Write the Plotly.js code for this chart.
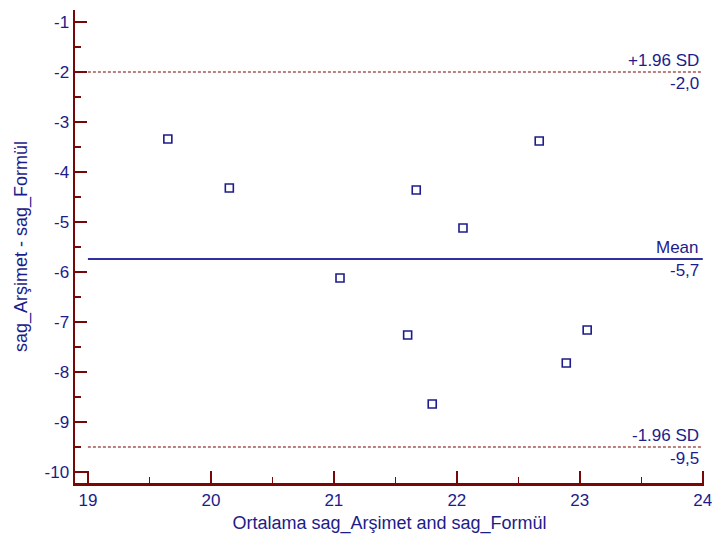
<!DOCTYPE html>
<html>
<head>
<meta charset="utf-8">
<script src="https://cdn.plot.ly/plotly-3.0.1.min.js"></script>
<style>html,body{margin:0;padding:0;background:#fff;}#chart{width:712px;height:540px;}</style>
</head>
<body>
<div id="chart"></div>
<script>
var avgValues = [19.65, 20.15, 21.05, 21.67, 21.60, 21.80, 22.05, 22.67, 22.89, 23.06];
var diffValues = [-3.34, -4.32, -6.12, -4.36, -7.26, -8.64, -5.12, -3.38, -7.82, -7.16];
var meanDiff = -5.74;
var upperLimit = -2.0;
var lowerLimit = -9.5;
var lineLabels = ["+1.96 SD", "Mean", "-1.96 SD"];
var valueLabels = ["-2,0", "-5,7", "-9,5"];
var lineX = [19, 24];
var xTickVals = [19, 20, 21, 22, 23, 24];
var xTickText = ["19", "20", "21", "22", "23", "24"];
var yTickVals = [-1, -2, -3, -4, -5, -6, -7, -8, -9, -10];
var yTickText = ["-1", "-2", "-3", "-4", "-5", "-6", "-7", "-8", "-9", "-10"];

var navy = '#1c1c8a';
var axisRed = '#780808';
var font = 'Liberation Sans, Arial, sans-serif';

var traces = [
  {x: lineX, y: [upperLimit, upperLimit], mode: 'lines', line: {color: '#7a0000', width: 1.2, dash: '3px,2px'}, hoverinfo: 'skip'},
  {x: lineX, y: [lowerLimit, lowerLimit], mode: 'lines', line: {color: '#7a0000', width: 1.2, dash: '3px,2px'}, hoverinfo: 'skip'},
  {x: lineX, y: [meanDiff, meanDiff], mode: 'lines', line: {color: '#3030a0', width: 2}, hoverinfo: 'skip'},
  {x: avgValues, y: diffValues, mode: 'markers', marker: {symbol: 'square-open', size: 8, color: '#1c1c8a', line: {width: 1.6}}}
];

var levels = [upperLimit, meanDiff, lowerLimit];
var annotations = [];
for (var i = 0; i < levels.length; i++) {
  annotations.push({x: 24, y: levels[i], xref: 'x', yref: 'y', text: lineLabels[i], showarrow: false, xanchor: 'right', yanchor: 'bottom', yshift: 0, xshift: -2, font: {family: font, size: 17, color: navy}});
  annotations.push({x: 24, y: levels[i], xref: 'x', yref: 'y', text: valueLabels[i], showarrow: false, xanchor: 'right', yanchor: 'top', yshift: 0, xshift: -2, font: {family: font, size: 17, color: navy}});
}

var layout = {
  width: 712, height: 540,
  margin: {l: 75, r: 8, t: 10, b: 57},
  paper_bgcolor: '#fff', plot_bgcolor: '#fff',
  showlegend: false,
  font: {family: font, color: navy, size: 17},
  xaxis: {
    range: [18.895, 24.01], tickmode: 'array', tickvals: xTickVals, ticktext: xTickText,
    showgrid: false, zeroline: false, automargin: false, ticklabeloverflow: 'allow',
    showline: true, linecolor: axisRed, linewidth: 2.5,
    ticks: 'inside', ticklen: 12, tickwidth: 1.5, tickcolor: axisRed,
    minor: {ticks: 'inside', ticklen: 6, dtick: 0.5, tick0: 19, tickcolor: axisRed, tickwidth: 1.5, showgrid: false},
    tickfont: {family: font, size: 17, color: navy},
    title: {text: 'Ortalama sag_Arşimet and sag_Formül', font: {family: font, size: 18, color: navy}, standoff: 8}
  },
  yaxis: {
    range: [-10.22, -0.76], tickmode: 'array', tickvals: yTickVals, ticktext: yTickText,
    showgrid: false, zeroline: false, automargin: false,
    showline: true, linecolor: axisRed, linewidth: 2.5,
    ticks: 'inside', ticklen: 12, tickwidth: 1.5, tickcolor: axisRed,
    minor: {ticks: 'inside', ticklen: 6, dtick: 0.5, tick0: -10, tickcolor: axisRed, tickwidth: 1.5, showgrid: false},
    tickfont: {family: font, size: 17, color: navy},
    title: {text: 'sag_Arşimet - sag_Formül', font: {family: font, size: 18, color: navy}, standoff: 12}
  },
  annotations: annotations
};

Plotly.newPlot('chart', traces, layout, {displayModeBar: false, staticPlot: true});
</script>
</body>
</html>
